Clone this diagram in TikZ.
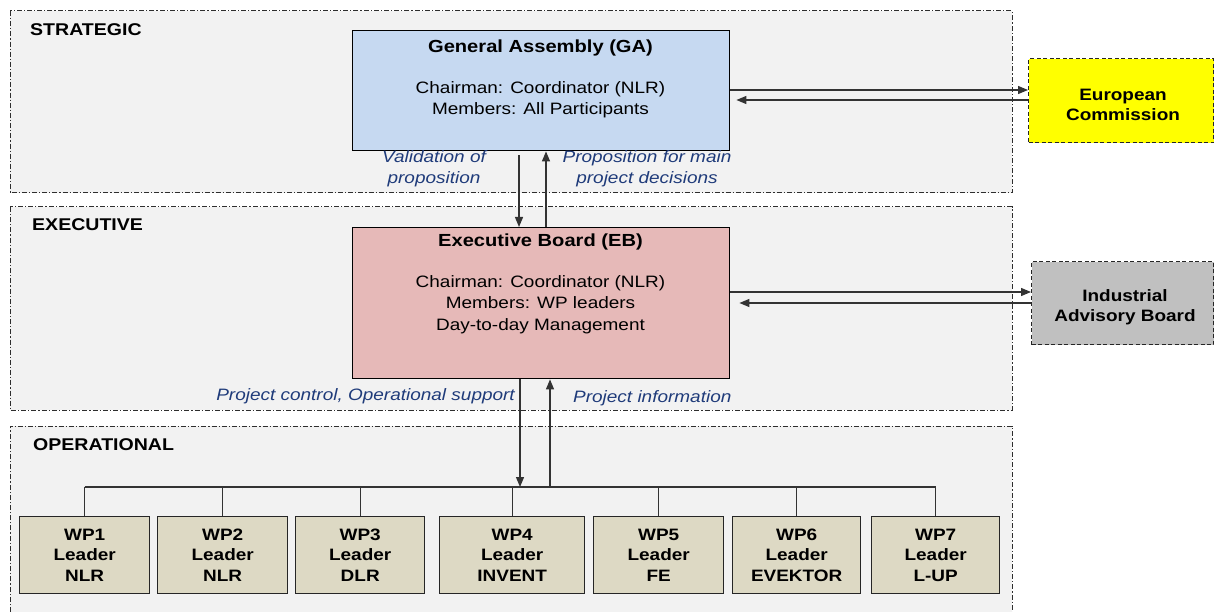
\documentclass[tikz,border=0pt]{standalone}
\usepackage{fontspec}
\setmainfont[FakeStretch=1.15]{Liberation Sans}
\usetikzlibrary{arrows.meta}
\definecolor{bandfill}{HTML}{F2F2F2}
\definecolor{bandline}{HTML}{2E2E2E}
\definecolor{gablue}{HTML}{C6D9F1}
\definecolor{ebpink}{HTML}{E6B9B8}
\definecolor{ecyellow}{HTML}{FFFF00}
\definecolor{iabgray}{HTML}{C0C0C0}
\definecolor{wpfill}{HTML}{DDD9C4}
\definecolor{lblblue}{HTML}{1F3B7A}
\begin{document}
\begin{tikzpicture}[x=1pt,y=-1pt,
 band/.style={draw=bandline, fill=bandfill, line width=1pt, dash pattern=on 5pt off 2pt on 1.2pt off 2pt},
 bandlabel/.style={anchor=west, font=\fontsize{17}{20}\selectfont\bfseries, inner sep=0pt},
 board/.style={draw=black, line width=1.4pt, anchor=north west, inner sep=0pt},
 ext/.style={draw=black!85, line width=1.1pt, dash pattern=on 4pt off 2.5pt, anchor=north west, inner sep=0pt},
 wpbox/.style={draw=black!85, line width=1.4pt, fill=wpfill, anchor=north west, inner sep=0pt, minimum height=77pt, align=center, font=\fontsize{16.5}{20.5}\selectfont\bfseries},
 conn/.style={draw=black!80, line width=1.2pt},
 arr/.style={conn, -{Triangle[length=10pt,width=8pt]}},
 lbl/.style={text=lblblue, font=\fontsize{16.5}{21}\selectfont\itshape, align=center, inner sep=0pt},
 body/.style={font=\fontsize{16.5}{21.5}\selectfont, align=center, inner sep=0pt},
 ttl/.style={font=\fontsize{17.5}{21}\selectfont\bfseries, inner sep=0pt},
 extxt/.style={font=\fontsize{16.5}{20.5}\selectfont\bfseries, align=center, inner sep=0pt},
]
\useasboundingbox (0,0) rectangle (1214,612);

% bands
\draw[band] (10,11) rectangle (1012,193);
\draw[band] (10,207) rectangle (1012,410);
\fill[bandfill] (10,426) rectangle (1012,612);
\draw[band, fill=none] (10,612) -- (10,426) -- (1012,426) -- (1012,612);

\node[bandlabel] (lstr) at (30,30) {STRATEGIC};
\node[bandlabel] (lexe) at (32,225) {EXECUTIVE};
\node[bandlabel] (lop) at (33,445) {OPERATIONAL};

% boards
\node[board, fill=gablue, minimum width=377pt, minimum height=120pt] (ga) at (352,30) {};
\node[ttl] (gat) at (540.5,48) {General Assembly (GA)};
\node[body] (gab) at (540.5,99.5) {Chairman: Coordinator (NLR)\\Members: All Participants};

\node[board, fill=ebpink, minimum width=377pt, minimum height=151pt] (eb) at (352,227) {};
\node[ttl] (ebt) at (540.5,242) {Executive Board (EB)};
\node[body] (ebb) at (540.5,304.5) {Chairman: Coordinator (NLR)\\Members: WP leaders\\Day-to-day Management};

% external
\node[ext, fill=ecyellow, minimum width=185pt, minimum height=84pt] (ec) at (1028,58) {};
\node[extxt] (ect) at (1123,105) {European\\Commission};
\node[ext, fill=iabgray, minimum width=182pt, minimum height=83pt] (iab) at (1031,261) {};
\node[extxt] (iabt) at (1125,307) {Industrial\\Advisory Board};

% WP boxes
\node[wpbox, minimum width=130pt] (wp1) at (19,516) {WP1\\Leader\\NLR};
\node[wpbox, minimum width=130pt] (wp2) at (157,516) {WP2\\Leader\\NLR};
\node[wpbox, minimum width=129pt] (wp3) at (295,516) {WP3\\Leader\\DLR};
\node[wpbox, minimum width=145pt] (wp4) at (439,516) {WP4\\Leader\\INVENT};
\node[wpbox, minimum width=130pt] (wp5) at (593,516) {WP5\\Leader\\FE};
\node[wpbox, minimum width=128pt] (wp6) at (732,516) {WP6\\Leader\\EVEKTOR};
\node[wpbox, minimum width=128pt] (wp7) at (871,516) {WP7\\Leader\\L-UP};

% helper coordinates
\coordinate (bus) at (0,487);
\coordinate (gaR) at ([xshift=6pt]ga.east);
\coordinate (ebR) at ([xshift=9pt]eb.east);
\coordinate (gaS) at ([yshift=-4pt]ga.south);

% GA <-> EC
\draw[arr] (ga.east |- 0,90) -- (ec.west |- 0,90);
\draw[arr] (ec.west |- 0,100) -- (gaR |- 0,100);
% EB <-> IAB
\draw[arr] (eb.east |- 0,292) -- (iab.west |- 0,292);
\draw[arr] (iab.west |- 0,303) -- (ebR |- 0,303);

% GA <-> EB
\draw[arr] (gaS -| 519,0) -- (eb.north -| 519,0);
\draw[arr] (eb.north -| 546,0) -- (ga.south -| 546,0);

% EB <-> WPs
\draw[arr] (eb.south -| 520,0) -- (bus -| 520,0);
\draw[arr] (bus -| 550,0) -- (eb.south -| 550,0);
\draw[conn] (bus -| wp1.north) -- (bus -| wp7.north);
\foreach \i in {1,...,7} \draw[conn] (wp\i.north) -- (bus -| wp\i.north);

% labels
\node[lbl] (l1) at (434,168.5) {Validation of\\proposition};
\node[lbl] (l2) at (647,168.5) {Proposition for main\\project decisions};
\node[lbl, anchor=east] (l3) at (515,396) {Project control, Operational support};
\node[lbl, anchor=west] (l4) at (573,398) {Project information};
\end{tikzpicture}
\end{document}
